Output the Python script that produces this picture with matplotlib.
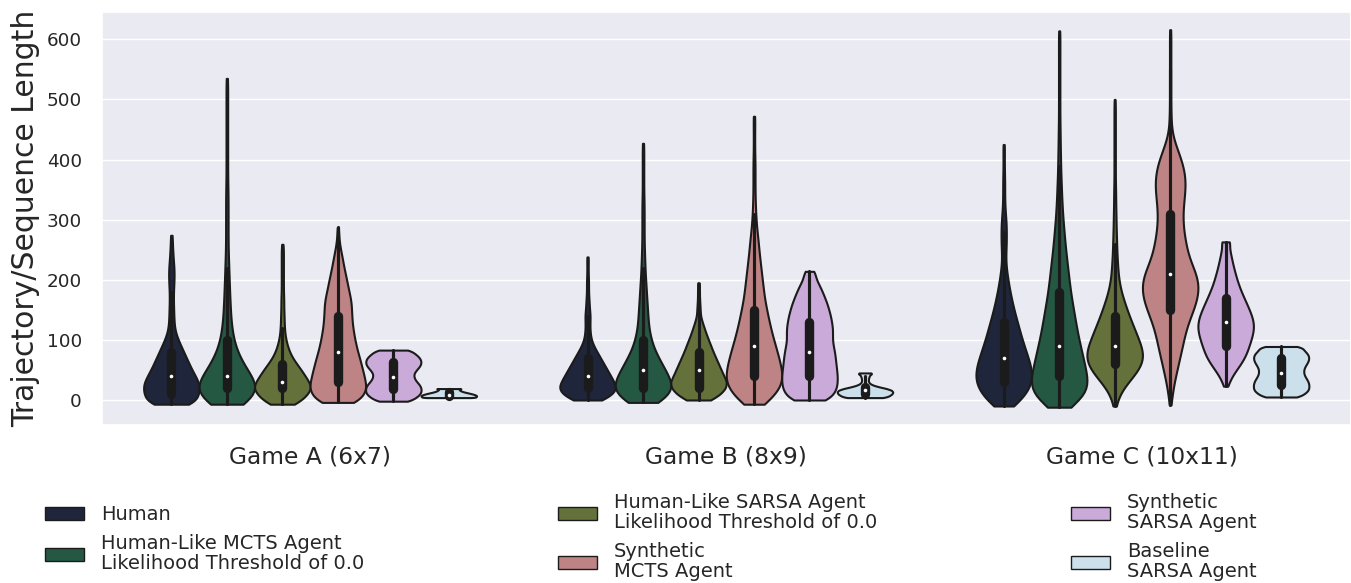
import colorsys
import numpy as np
import pandas as pd
import matplotlib
matplotlib.use("Agg")
import matplotlib.pyplot as plt
from matplotlib.patches import Patch
import seaborn as sns

GAMES = ["Game A (6x7)", "Game B (8x9)", "Game C (10x11)"]
AGENTS = [
    "Human",
    "Human-Like MCTS Agent\nLikelihood Threshold of 0.0",
    "Human-Like SARSA Agent\nLikelihood Threshold of 0.0",
    "Synthetic\nMCTS Agent",
    "Synthetic\nSARSA Agent",
    "Baseline\nSARSA Agent",
]
Y_LABEL = "Trajectory/Sequence Length"
Y_TICKS = [0, 100, 200, 300, 400, 500, 600]

# ---- observed lengths (value levels) and how many trajectories sit at each level ----
# Game A
HUMAN_A_LEN = [-7, 0, 10, 20, 30, 40, 50, 60, 70, 80, 90, 100, 110, 120, 130, 140, 150, 160, 170, 180,
               190, 200, 210, 220, 230, 240, 250, 260, 270, 274]
HUMAN_A_CNT = [50, 68, 80, 84, 80, 70, 60, 52, 44, 36, 28, 20, 13, 9, 8, 7, 7, 6, 6, 6,
               7, 8, 8, 8, 6, 5, 4, 3, 2, 2]
HMCTS_A_LEN = [-7, 0, 10, 20, 30, 40, 50, 60, 70, 80, 90, 100, 110, 120, 130, 140, 150, 160, 170, 180,
               190, 200, 210, 220, 230, 240, 250, 260, 270, 280, 290, 300, 310, 320, 330, 340, 350, 360, 370, 380,
               390, 400, 410, 420, 430, 440, 450, 460, 470, 480, 490, 500, 510, 520, 530, 535]
HMCTS_A_CNT = [34, 60, 78, 82, 72, 60, 50, 40, 32, 25, 20, 16, 14, 12, 10, 9, 9, 8, 7, 7,
               6, 6, 5, 5, 4, 4, 3, 3, 3, 3, 3, 3, 3, 3, 3, 3, 3, 2, 2, 2,
               2, 2, 2, 2, 2, 2, 2, 2, 2, 2, 2, 2, 2, 2, 2, 2]
HSARSA_A_LEN = [-7, 0, 10, 20, 30, 40, 50, 60, 70, 80, 90, 100, 110, 120, 130, 140, 150, 160, 170, 180,
                190, 200, 210, 220, 230, 240, 250, 259]
HSARSA_A_CNT = [25, 50, 72, 83, 75, 63, 53, 40, 28, 20, 14, 10, 7, 6, 5, 5, 4, 4, 4, 3,
                3, 3, 3, 3, 3, 3, 3, 2]
SMCTS_A_LEN = [-4, 0, 10, 20, 30, 40, 50, 60, 70, 80, 90, 100, 110, 120, 130, 140, 150, 160, 170, 180,
               190, 200, 210, 220, 230, 240, 250, 260, 270, 280, 287]
SMCTS_A_CNT = [34, 50, 80, 85, 81, 77, 73, 68, 64, 58, 54, 50, 47, 44, 42, 41, 40, 40, 37, 33,
               29, 26, 22, 18, 15, 12, 8, 5, 3, 2, 2]
SSARSA_A_LEN = [-2, 3, 8, 13, 18, 23, 28, 33, 38, 43, 48, 53, 58, 63, 68, 73, 78, 83]
SSARSA_A_CNT = [48, 62, 74, 80, 80, 78, 71, 63, 59, 58, 63, 71, 78, 80, 78, 71, 60, 50]
BASE_A_LEN = [4, 5, 6, 7, 8, 9, 10, 11, 12, 13, 14, 15, 16, 17, 18, 19]
BASE_A_CNT = [80, 76, 80, 80, 78, 74, 68, 61, 54, 46, 40, 35, 32, 30, 28, 45]

# Game B
HUMAN_B_LEN = [0, 10, 20, 30, 40, 50, 60, 70, 80, 90, 100, 110, 120, 130, 140, 150, 160, 170, 180, 190,
               200, 210, 220, 230, 238]
HUMAN_B_CNT = [45, 75, 86, 78, 68, 58, 48, 38, 28, 18, 11, 8, 7, 7, 8, 6, 5, 4, 3, 3,
               3, 2, 2, 2, 2]
HMCTS_B_LEN = [-4, 0, 10, 20, 30, 40, 50, 60, 70, 80, 90, 100, 110, 120, 130, 140, 150, 160, 170, 180,
               190, 200, 210, 220, 230, 240, 250, 260, 270, 280, 290, 300, 310, 320, 330, 340, 350, 360, 370, 380,
               390, 400, 410, 420, 427]
HMCTS_B_CNT = [30, 40, 75, 83, 76, 68, 60, 50, 42, 33, 26, 22, 18, 15, 14, 13, 12, 11, 10, 9,
               8, 7, 6, 5, 5, 4, 4, 3, 3, 3, 3, 3, 3, 3, 3, 2, 2, 2, 2, 2,
               2, 2, 2, 2, 2]
HSARSA_B_LEN = [0, 10, 20, 30, 40, 50, 60, 70, 80, 90, 100, 110, 120, 130, 140, 150, 160, 170, 180, 190, 195]
HSARSA_B_CNT = [38, 66, 82, 85, 76, 68, 60, 52, 44, 37, 30, 23, 17, 11, 6, 5, 4, 3, 3, 2, 2]
SMCTS_B_LEN = [-7, 0, 10, 20, 30, 40, 50, 60, 70, 80, 90, 100, 110, 120, 130, 140, 150, 160, 170, 180,
               190, 200, 210, 220, 230, 240, 250, 260, 270, 280, 290, 300, 310, 320, 330, 340, 350, 360, 370, 380,
               390, 400, 410, 420, 430, 440, 450, 460, 470, 472]
SMCTS_B_CNT = [25, 40, 62, 75, 82, 83, 80, 76, 72, 67, 62, 57, 52, 48, 44, 40, 37, 33, 30, 28,
               26, 24, 22, 20, 18, 16, 14, 13, 11, 9, 7, 6, 5, 4, 4, 3, 3, 3, 3, 3,
               3, 3, 2, 2, 2, 2, 2, 2, 2, 2]
SSARSA_B_LEN = [0, 10, 20, 30, 40, 50, 60, 70, 80, 90, 100, 110, 120, 130, 140, 150, 160, 170, 180, 190,
                200, 210, 214]
SSARSA_B_CNT = [55, 72, 80, 82, 82, 80, 78, 76, 74, 70, 67, 68, 68, 65, 62, 57, 52, 45, 38, 30,
                20, 12, 10]
BASE_B_LEN = [4, 7, 10, 13, 16, 19, 22, 25, 28, 31, 34, 37, 40, 43, 45]
BASE_B_CNT = [60, 72, 80, 83, 80, 65, 40, 22, 13, 10, 10, 11, 13, 14, 18]

# Game C
HUMAN_C_LEN = [-10, 0, 10, 20, 30, 40, 50, 60, 70, 80, 90, 100, 110, 120, 130, 140, 150, 160, 170, 180,
               190, 200, 210, 220, 230, 240, 250, 260, 270, 280, 290, 300, 310, 320, 330, 340, 350, 360, 370, 380,
               390, 400, 410, 420, 425]
HUMAN_C_CNT = [34, 50, 66, 78, 84, 86, 84, 80, 74, 68, 62, 56, 51, 46, 41, 36, 31, 27, 23, 19,
               16, 13, 10, 8, 6, 6, 7, 8, 8, 8, 8, 7, 5, 4, 3, 3, 3, 3, 3, 2,
               2, 2, 2, 2, 2]
HMCTS_C_LEN = [-12, 0, 10, 20, 30, 40, 50, 60, 70, 80, 90, 100, 110, 120, 130, 140, 150, 160, 170, 180,
               190, 200, 210, 220, 230, 240, 250, 260, 270, 280, 290, 300, 310, 320, 330, 340, 350, 360, 370, 380,
               390, 400, 410, 420, 430, 440, 450, 460, 470, 480, 490, 500, 510, 520, 530, 540, 550, 560, 570, 580,
               590, 600, 610, 614]
HMCTS_C_CNT = [42, 66, 80, 85, 85, 82, 78, 74, 70, 66, 62, 58, 54, 51, 48, 45, 42, 39, 36, 33,
               31, 29, 27, 25, 23, 21, 19, 17, 16, 14, 13, 11, 10, 9, 8, 7, 7, 6, 5, 5,
               4, 4, 4, 3, 3, 3, 3, 2, 2, 2, 2, 2, 2, 2, 2, 2, 2, 2, 2, 2,
               2, 2, 2, 2]
HSARSA_C_LEN = [-10, 0, 10, 20, 30, 40, 50, 60, 70, 80, 90, 100, 110, 120, 130, 140, 150, 160, 170, 180,
                190, 200, 210, 220, 230, 240, 250, 260, 270, 280, 290, 300, 310, 320, 330, 340, 350, 360, 370, 380,
                390, 400, 410, 420, 430, 440, 450, 460, 470, 480, 490, 500]
HSARSA_C_CNT = [4, 8, 15, 25, 40, 55, 69, 79, 84, 82, 77, 70, 63, 56, 49, 42, 36, 30, 24, 19,
                15, 12, 10, 9, 8, 7, 6, 6, 5, 5, 4, 4, 4, 3, 3, 3, 3, 2, 2, 2,
                2, 2, 2, 2, 2, 2, 2, 2, 2, 2, 2, 2]
SMCTS_C_LEN = [-8, 0, 10, 20, 30, 40, 50, 60, 70, 80, 90, 100, 110, 120, 130, 140, 150, 160, 170, 180,
               190, 200, 210, 220, 230, 240, 250, 260, 270, 280, 290, 300, 310, 320, 330, 340, 350, 360, 370, 380,
               390, 400, 410, 420, 430, 440, 450, 460, 470, 480, 490, 500, 510, 520, 530, 540, 550, 560, 570, 580,
               590, 600, 610, 616]
SMCTS_C_CNT = [2, 4, 6, 9, 12, 16, 20, 24, 28, 32, 36, 40, 43, 48, 54, 61, 68, 75, 80, 83,
               84, 82, 76, 68, 60, 54, 49, 46, 43, 40, 38, 37, 37, 38, 40, 42, 44, 45, 44, 42,
               38, 32, 26, 19, 12, 7, 4, 3, 3, 2, 2, 2, 2, 2, 2, 2, 2, 2, 2, 2,
               2, 2, 2, 2]
SSARSA_C_LEN = [23, 30, 40, 50, 60, 70, 80, 90, 100, 110, 120, 130, 140, 150, 160, 170, 180, 190, 200, 210,
                220, 230, 240, 250, 263]
SSARSA_C_CNT = [4, 10, 20, 32, 45, 56, 64, 70, 76, 81, 84, 83, 78, 71, 63, 55, 47, 40, 34, 29,
                24, 20, 16, 13, 18]
BASE_C_LEN = [5, 10, 15, 20, 25, 30, 35, 40, 45, 50, 55, 60, 65, 70, 75, 80, 85, 89]
BASE_C_CNT = [55, 68, 80, 83, 83, 81, 76, 70, 67, 67, 70, 76, 81, 83, 81, 74, 60, 50]

SERIES = {
    GAMES[0]: [(HUMAN_A_LEN, HUMAN_A_CNT), (HMCTS_A_LEN, HMCTS_A_CNT), (HSARSA_A_LEN, HSARSA_A_CNT),
               (SMCTS_A_LEN, SMCTS_A_CNT), (SSARSA_A_LEN, SSARSA_A_CNT), (BASE_A_LEN, BASE_A_CNT)],
    GAMES[1]: [(HUMAN_B_LEN, HUMAN_B_CNT), (HMCTS_B_LEN, HMCTS_B_CNT), (HSARSA_B_LEN, HSARSA_B_CNT),
               (SMCTS_B_LEN, SMCTS_B_CNT), (SSARSA_B_LEN, SSARSA_B_CNT), (BASE_B_LEN, BASE_B_CNT)],
    GAMES[2]: [(HUMAN_C_LEN, HUMAN_C_CNT), (HMCTS_C_LEN, HMCTS_C_CNT), (HSARSA_C_LEN, HSARSA_C_CNT),
               (SMCTS_C_LEN, SMCTS_C_CNT), (SSARSA_C_LEN, SSARSA_C_CNT), (BASE_C_LEN, BASE_C_CNT)],
}

frames = []
for game in GAMES:
    for agent, (vals, cnts) in zip(AGENTS, SERIES[game]):
        assert len(vals) == len(cnts), (game, agent, len(vals), len(cnts))
        v = np.repeat(np.asarray(vals, dtype=float), np.asarray(cnts, dtype=int))
        frames.append(pd.DataFrame({"game": game, "agent": agent, "length": v}))
df = pd.concat(frames, ignore_index=True)

sns.set_theme(style="darkgrid")
plt.rcParams["font.family"] = ["DejaVu Sans"]

palette = sns.color_palette("cubehelix", len(AGENTS))
W, H = 1351, 583
fig = plt.figure(figsize=(W / 100, H / 100), dpi=100)
ax = fig.add_axes([102 / W, 1 - 425 / H, 1248.5 / W, 413 / H])

sns.violinplot(
    data=df, x="game", y="length", hue="agent",
    order=GAMES, hue_order=AGENTS, palette=palette,
    density_norm="width", cut=0, inner="box", linewidth=1.5,
    bw_adjust=0.6, saturation=0.75, legend=False, ax=ax,
)

# median as a small white dot
for ln in ax.lines:
    if ln.get_marker() in ("_", "|"):
        ln.set_marker("o")
        ln.set_markersize(2.6)
        ln.set_markerfacecolor("white")
        ln.set_markeredgecolor("white")
        ln.set_markeredgewidth(0)

ax.set_ylim(-41.6, 645.4)
ax.set_xlim(-0.5, 2.5)
ax.set_yticks(Y_TICKS)
ax.set_xlabel("")
ax.set_ylabel(Y_LABEL, fontsize=21.5)
ax.yaxis.set_label_coords(-0.0497, 0.5)
ax.tick_params(axis="y", labelsize=13.2, pad=14.5, length=0)
ax.tick_params(axis="x", labelsize=16.8, pad=14.5, length=0)
ax.xaxis.grid(False)

# legend
cols = [sns.desaturate(c, 0.75) for c in palette]
lum = min(colorsys.rgb_to_hls(*c)[1] for c in cols) * 0.6
gray = (lum, lum, lum)
handles = [Patch(facecolor=c, edgecolor=gray, linewidth=1.0) for c in cols]
leg = fig.legend(handles, AGENTS, ncol=3, loc="upper left",
                 bbox_to_anchor=(37.5 / W, 1 - 485.5 / H), frameon=False,
                 fontsize=14.0, columnspacing=9.95, handletextpad=0.88,
                 labelspacing=0.5, borderaxespad=0)
for t in leg.get_texts():
    t.set_linespacing(1.08)

fig.savefig("out.png", dpi=100)
